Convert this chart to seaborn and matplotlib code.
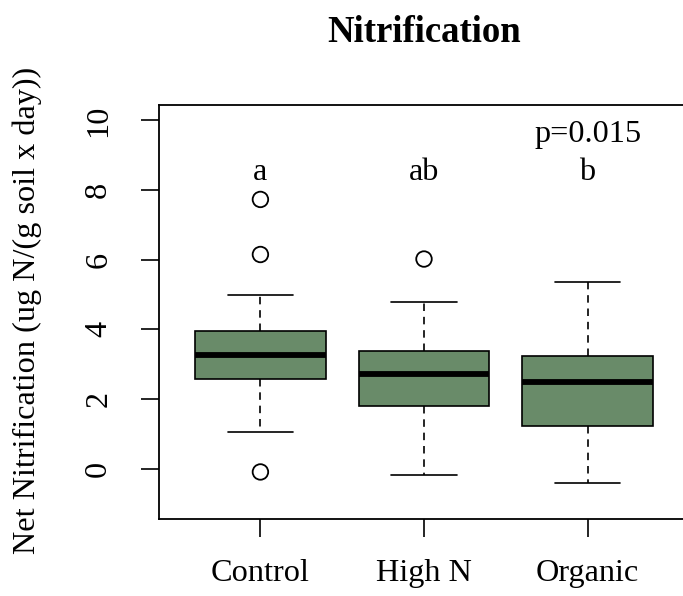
import matplotlib
matplotlib.use("Agg")
import matplotlib.pyplot as plt
import seaborn as sns
import pandas as pd

# summary stats
groups = ["Control", "High N", "Organic"]
whisker_low = [1.06, -0.17, -0.40]
q1 = [2.59, 1.80, 1.22]
medians = [3.28, 2.73, 2.50]
q3 = [3.95, 3.37, 3.23]
whisker_high = [4.99, 4.79, 5.36]

outlier_group = ["Control", "Control", "Control", "High N"]
outlier_value = [7.73, 6.15, -0.09, 6.02]

letters = ["a", "ab", "b"]
p_text = "p=0.015"

sns.set_style("ticks")
plt.rcParams["font.family"] = ["Liberation Serif", "DejaVu Serif"]
plt.rcParams.update({"text.color": "black", "axes.labelcolor": "black",
                     "xtick.color": "black", "ytick.color": "black"})

fs = 23.2
fig = plt.figure(figsize=(6.83, 5.96), dpi=100)
ax = fig.add_axes([159 / 683, 77 / 596, 530 / 683, 414 / 596])

pos = {g: i + 1 for i, g in enumerate(groups)}
stats = [
    dict(med=medians[i], q1=q1[i], q3=q3[i], whislo=whisker_low[i],
         whishi=whisker_high[i], fliers=[], label=g)
    for i, g in enumerate(groups)
]
ax.bxp(stats, positions=[pos[g] for g in groups], widths=0.8,
       patch_artist=True, showfliers=False,
       boxprops=dict(facecolor="#698B69", edgecolor="black", linewidth=1.2),
       medianprops=dict(color="black", linewidth=4.2, solid_capstyle="butt"),
       whiskerprops=dict(color="black", linewidth=1.2, linestyle=(0, (4.5, 3.5))),
       capprops=dict(color="black", linewidth=1.2), capwidths=0.4)

out = pd.DataFrame({"x": [pos[g] for g in outlier_group], "y": outlier_value})
sns.scatterplot(data=out, x="x", y="y", ax=ax, marker="o", s=125,
                facecolor="none", edgecolor="black", linewidth=1.3, zorder=3)

for i, g in enumerate(groups):
    ax.text(pos[g], 8.5, letters[i], ha="center", va="center", fontsize=fs)
ax.text(3, 9.6, p_text, ha="center", va="center", fontsize=fs)

ax.set_xlim(0.38, 3.62)
ax.set_ylim(-1.44, 10.44)
ax.set_xticks([1, 2, 3])
ax.set_xticklabels(groups)
ax.set_yticks([0, 2, 4, 6, 8, 10])
ax.set_xlabel("")
ax.set_ylabel("")
ax.tick_params(axis="both", length=13, width=1.2, labelsize=fs, color="black")
ax.tick_params(axis="x", pad=16)
ax.tick_params(axis="y", pad=20, labelrotation=90)
for lab in ax.get_yticklabels():
    lab.set_va("center")
for s in ax.spines.values():
    s.set_linewidth(1.3)
    s.set_color("black")

fig.text(424.5 / 683, 1 - 42 / 596, "Nitrification", ha="center", va="baseline",
         fontsize=26.5, fontweight="bold")
fig.text(27 / 683, 1 - 310 / 596, "Net Nitrification (ug N/(g soil x day))",
         ha="center", va="center", rotation=90, fontsize=fs)

fig.savefig("out.png", dpi=100)
